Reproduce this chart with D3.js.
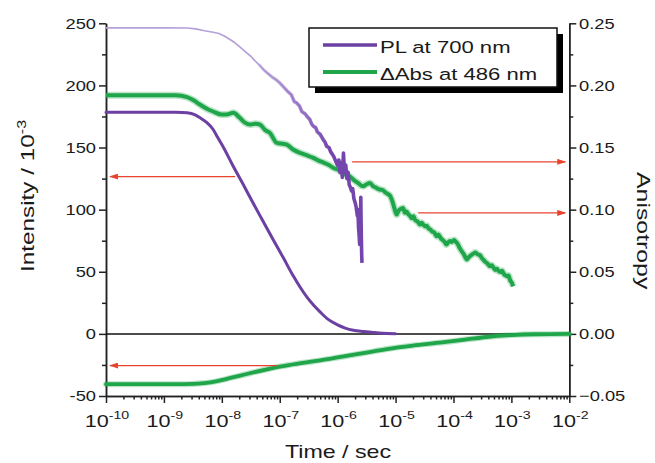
<!DOCTYPE html>
<html><head><meta charset="utf-8">
<script src="https://cdn.jsdelivr.net/npm/d3@7"></script>
<style>
body{margin:0;background:#fff}
svg{display:block}
text{font-family:"Liberation Sans",Arial,Helvetica,sans-serif;fill:#1a1a1a}
</style>
</head><body>
<svg width="655" height="463"></svg>
<script>
// ---- data (time given as log10 of seconds) ----
const timeDecades = [-10,-9,-8,-7,-6,-5,-4,-3,-2];
const intensityTicks = [-50,0,50,100,150,200,250];
const anisotropyTicks = [-0.05,0,0.05,0.10,0.15,0.20,0.25];

// PL at 700 nm, intensity (left axis)
const plIntensity = [
[-10,178.5],[-9.2,178.5],[-8.8,178.4],[-8.6,178.0],[-8.46,176.3],[-8.38,174.1],[-8.27,170.5],[-8.15,164.5],
[-8.07,158.0],[-7.98,150.8],[-7.81,135.5],[-7.63,120.2],[-7.46,105.3],[-7.29,90.8],[-7.12,76.3],[-6.94,61.4],
[-6.77,46.9],[-6.65,37.7],[-6.53,29.6],[-6.41,22.8],[-6.3,17.5],[-6.17,11.9],[-6.01,7.5],[-5.87,4.7],[-5.73,2.9],
[-5.56,1.9],[-5.39,1.2],[-5.22,0.6],[-5.0,0.2]
];
// ΔAbs at 486 nm, intensity (left axis)
const absIntensity = [
[-10,-40.5],[-8.8,-40.5],[-8.5,-40.3],[-8.3,-39.6],[-8.1,-38.2],[-7.9,-36],[-7.7,-33.8],[-7.5,-31.5],[-7.2,-28.3],
[-7.0,-26.3],[-6.6,-23.3],[-6.3,-21.3],[-6.0,-19],[-5.5,-15],[-5.15,-12.2],[-4.7,-9.4],[-4.2,-6.9],[-3.8,-4.6],
[-3.43,-2.5],[-3.0,-1.0],[-2.6,-0.3],[-2.0,0]
];
// PL at 700 nm, anisotropy (right axis)
const plAnisotropy = [
[-10,0.2463],[-9.0,0.2463],[-8.6,0.2462],[-8.45,0.2455],[-8.3,0.2440],[-8.15,0.2428],[-8.05,0.2418],[-7.95,0.2395],
[-7.86,0.2369],[-7.78,0.2345],[-7.72,0.2322],[-7.64,0.2290],[-7.57,0.2262],[-7.5,0.2235],[-7.43,0.2200],[-7.36,0.2168],
[-7.28,0.2127],[-7.21,0.2098],[-7.14,0.2070],[-7.07,0.2048],[-7.0,0.2020],[-6.93,0.1985],[-6.86,0.1950],[-6.8,0.1925],
[-6.75,0.1870],[-6.71,0.1860],[-6.66,0.1835],[-6.62,0.1790],[-6.56,0.1770],[-6.52,0.1745],[-6.48,0.1725],[-6.45,0.1690],
[-6.42,0.1671],[-6.38,0.1660],[-6.35,0.1625],[-6.3,0.1605],[-6.25,0.1564],[-6.22,0.1545],[-6.19,0.1510],[-6.15,0.1500],
[-6.12,0.1465],[-6.09,0.1445],[-6.06,0.1420],[-6.03,0.1385],[-6.0,0.1355],[-5.98,0.1400],[-5.96,0.1300],[-5.94,0.1380],
[-5.92,0.1260],[-5.9,0.1455],[-5.88,0.1300],[-5.86,0.1360],[-5.84,0.1250],[-5.82,0.1300],[-5.8,0.1200],[-5.78,0.1180],
[-5.76,0.1150],[-5.74,0.1170],[-5.72,0.1090],[-5.7,0.1060],[-5.68,0.1020],[-5.66,0.0950],[-5.65,0.1000],[-5.64,0.0860],
[-5.63,0.0800],[-5.62,0.0720],[-5.61,0.0780],[-5.6,0.1100],[-5.595,0.0900],[-5.59,0.0760],[-5.585,0.0640],[-5.58,0.0572]
];
// ΔAbs at 486 nm, anisotropy (right axis)
const absAnisotropy = [
[-10,0.192],[-8.8,0.192],[-8.6,0.1905],[-8.48,0.1878],[-8.38,0.1846],[-8.25,0.181],[-8.15,0.179],[-8.0,0.1765],
[-7.92,0.1765],[-7.8,0.1779],[-7.69,0.1739],[-7.6,0.170],[-7.51,0.1685],[-7.42,0.1692],[-7.34,0.1685],[-7.25,0.164],
[-7.17,0.1618],[-7.05,0.1537],[-6.95,0.1530],[-6.88,0.1524],[-6.77,0.1484],[-6.65,0.1457],[-6.55,0.1440],[-6.42,0.1417],
[-6.33,0.1395],[-6.25,0.1380],[-6.16,0.1362],[-6.07,0.1336],[-5.98,0.1318],[-5.9,0.1290],[-5.8,0.1270],[-5.73,0.1242],
[-5.65,0.1215],[-5.56,0.1188],[-5.5,0.1205],[-5.44,0.1215],[-5.39,0.1190],[-5.35,0.1180],[-5.27,0.1162],[-5.22,0.1158],
[-5.18,0.1140],[-5.13,0.1125],[-5.09,0.1108],[-5.05,0.1060],[-5.02,0.1010],[-4.98,0.0960],[-4.95,0.0990],[-4.91,0.1005],
[-4.87,0.1014],[-4.84,0.0975],[-4.81,0.0985],[-4.78,0.0962],[-4.75,0.0950],[-4.72,0.0930],[-4.69,0.0947],[-4.66,0.0915],
[-4.62,0.0905],[-4.58,0.0880],[-4.55,0.0895],[-4.52,0.0878],[-4.49,0.0865],[-4.46,0.0870],[-4.43,0.0848],[-4.40,0.0840],
[-4.37,0.0825],[-4.33,0.0815],[-4.29,0.0786],[-4.26,0.0800],[-4.23,0.0778],[-4.2,0.0760],[-4.16,0.0745],[-4.12,0.0719],
[-4.09,0.0738],[-4.06,0.0748],[-4.03,0.0740],[-3.99,0.0755],[-3.96,0.0742],[-3.93,0.0725],[-3.89,0.0690],[-3.85,0.0660],
[-3.82,0.0640],[-3.79,0.0612],[-3.77,0.0598],[-3.74,0.0615],[-3.7,0.0632],[-3.66,0.0645],[-3.62,0.0655],[-3.58,0.0640],
[-3.54,0.0632],[-3.51,0.0610],[-3.48,0.0595],[-3.45,0.0580],[-3.41,0.0565],[-3.37,0.0544],[-3.34,0.0552],[-3.31,0.0535],
[-3.28,0.0515],[-3.25,0.0524],[-3.22,0.0505],[-3.19,0.0498],[-3.16,0.0508],[-3.13,0.0482],[-3.1,0.0470],[-3.07,0.0462],
[-3.05,0.0470],[-3.02,0.0430],[-2.99,0.0410],[-2.97,0.0383]
];
// red arrows pointing to the axis each curve belongs to
const leftArrows = [{v:126.6, from:-7.77, to:-9.93},{v:-25.5, from:-7.05, to:-9.93}];
const rightArrows = [{v:0.1385, from:-5.75, to:-2.07},{v:0.0974, from:-4.61, to:-2.07}];
const legendItems = [{label:"PL at 700 nm", color:"#6c3fa3"},{label:"\u0394Abs at 486 nm", color:"#1fa64a"}];

// ---- drawing ----
const svg = d3.select("svg");
const X0 = 106, X1 = 569.3, Y0 = 396, Y1 = 23.3;
const x = d3.scaleLog().domain([1e-10,1e-2]).range([X0,X1]);
const yL = d3.scaleLinear().domain([-50,250]).range([Y0,Y1]);
const yR = d3.scaleLinear().domain([-0.05,0.25]).range([Y0,Y1]);
const tx = d => x(Math.pow(10,d));

function stext(parent, px, py, rot, sx, size, anchor){
  const g = parent.append("g").attr("transform",`translate(${px},${py}) rotate(${rot}) scale(${sx},1)`);
  return g.append("text").attr("font-size",size).attr("text-anchor",anchor);
}

const defs = svg.append("defs");
defs.append("marker").attr("id","ah").attr("markerUnits","userSpaceOnUse")
  .attr("markerWidth",9).attr("markerHeight",6).attr("refX",8).attr("refY",3).attr("orient","auto")
  .append("path").attr("d","M0,0L9,3L0,6Z").attr("fill","#e8432e");
const grad = defs.append("linearGradient").attr("id","pg").attr("gradientUnits","userSpaceOnUse")
  .attr("x1",240).attr("x2",330).attr("y1",0).attr("y2",0);
grad.append("stop").attr("offset",0).attr("stop-color","#9a7cc9").attr("stop-opacity",0);
grad.append("stop").attr("offset",1).attr("stop-color","#7446ad").attr("stop-opacity",1);

// axes
const axStyle = g => { g.selectAll("path,line").attr("stroke","#222").attr("stroke-width",1.5); g.selectAll("text").remove(); };
const minorL = d3.range(-25,250,50);
const minorR = minorL.map(v=>v/1000);
svg.append("g").attr("transform",`translate(${X0},0)`).call(d3.axisLeft(yL).tickValues(intensityTicks).tickSize(7).tickSizeOuter(0)).call(axStyle);
svg.append("g").attr("transform",`translate(${X0},0)`).call(d3.axisLeft(yL).tickValues(minorL).tickSize(4).tickSizeOuter(0)).call(axStyle);
svg.append("g").attr("transform",`translate(${X1},0)`).call(d3.axisRight(yR).tickValues(anisotropyTicks).tickSize(7).tickSizeOuter(0)).call(axStyle);
svg.append("g").attr("transform",`translate(${X1},0)`).call(d3.axisRight(yR).tickValues(minorR).tickSize(4).tickSizeOuter(0)).call(axStyle);
const minorX = [];
timeDecades.slice(0,-1).forEach(d=>{ for(let k=2;k<=9;k++) minorX.push(k*Math.pow(10,d)); });
svg.append("g").attr("transform",`translate(0,${Y0})`).call(d3.axisBottom(x).tickValues(timeDecades.map(d=>Math.pow(10,d))).tickSize(7).tickSizeOuter(0)).call(axStyle);
svg.append("g").attr("transform",`translate(0,${Y0})`).call(d3.axisBottom(x).tickValues(minorX).tickSize(3.5).tickSizeOuter(0)).call(axStyle);

// tick labels
intensityTicks.forEach(v=>{ stext(svg, 96, yL(v)+5.4, 0, 1.22, 15, "end").text(v); });
anisotropyTicks.forEach(v=>{ stext(svg, 579, yR(v)+5.4, 0, 1.22, 15, "start").text(d3.format(".2f")(v)); });
timeDecades.forEach(d=>{
  const t = stext(svg, tx(d)+1, 427, 0, 1.35, 16, "middle");
  t.append("tspan").text("10");
  t.append("tspan").attr("dy",-8).attr("font-size",10.5).text(d);
});

// axis titles
const yt = stext(svg, 34, 272, -90, 1.35, 18, "start");
yt.append("tspan").text("Intensity / 10");
yt.append("tspan").attr("dy",-8).attr("font-size",12).text("-3");
stext(svg, 637, 172, 90, 1.38, 18, "start").text("Anisotropy");
stext(svg, 338, 458, 0, 1.29, 18, "middle").text("Time / sec");

// zero line
svg.append("line").attr("x1",X0).attr("x2",X1).attr("y1",yL(0)).attr("y2",yL(0)).attr("stroke","#111").attr("stroke-width",1.5);

// curves
const lineR = d3.line().x(d=>tx(d[0])).y(d=>yR(d[1]));
const smoothR = d3.line().x(d=>tx(d[0])).y(d=>yR(d[1])).curve(d3.curveMonotoneX);
const smoothL = d3.line().x(d=>tx(d[0])).y(d=>yL(d[1])).curve(d3.curveMonotoneX);

svg.append("path").datum(absAnisotropy).attr("d",smoothR).attr("fill","none").attr("stroke","#1fa64a").attr("stroke-opacity",0.3).attr("stroke-width",7).attr("stroke-linejoin","round");
svg.append("path").datum(absAnisotropy).attr("d",smoothR).attr("fill","none").attr("stroke","#1fa64a").attr("stroke-width",4).attr("stroke-linejoin","round");
svg.append("path").datum(absIntensity).attr("d",smoothL).attr("fill","none").attr("stroke","#1fa64a").attr("stroke-opacity",0.3).attr("stroke-width",6).attr("stroke-linecap","round");
svg.append("path").datum(absIntensity).attr("d",smoothL).attr("fill","none").attr("stroke","#1fa64a").attr("stroke-width",3.8).attr("stroke-linecap","round");
svg.append("path").datum(plAnisotropy).attr("d",lineR).attr("fill","none").attr("stroke","#b5a0da").attr("stroke-width",1.7).attr("stroke-linejoin","round");
svg.append("path").datum(plAnisotropy.filter(d=>d[0]>=-7.4)).attr("d",lineR).attr("fill","none").attr("stroke","url(#pg)").attr("stroke-width",3.6).attr("stroke-linejoin","round");
svg.append("path").datum(plIntensity).attr("d",smoothL).attr("fill","none").attr("stroke","#6c3fa3").attr("stroke-width",3).attr("stroke-linecap","round");

// arrows
leftArrows.forEach(a=>{
  svg.append("line").attr("x1",tx(a.from)).attr("x2",tx(a.to)).attr("y1",yL(a.v)).attr("y2",yL(a.v))
    .attr("stroke","#e8432e").attr("stroke-width",1.3).attr("marker-end","url(#ah)");
});
rightArrows.forEach(a=>{
  svg.append("line").attr("x1",tx(a.from)).attr("x2",tx(a.to)).attr("y1",yR(a.v)).attr("y2",yR(a.v))
    .attr("stroke","#e8432e").attr("stroke-width",1.3).attr("marker-end","url(#ah)");
});

// legend
const lg = svg.append("g");
lg.append("rect").attr("x",315).attr("y",34).attr("width",248).attr("height",59).attr("fill","#000");
lg.append("rect").attr("x",309).attr("y",28).attr("width",248).attr("height",59).attr("fill","#fff").attr("stroke","#111").attr("stroke-width",1.5);
legendItems.forEach((it,i)=>{
  const yy = 45 + i*27;
  lg.append("line").attr("x1",323).attr("x2",377).attr("y1",yy).attr("y2",yy).attr("stroke",it.color).attr("stroke-width",i?4:3.5);
  stext(lg, 380, yy+7.5, 0, 1.3, 17, "start").text(it.label);
});
</script>
</body></html>
